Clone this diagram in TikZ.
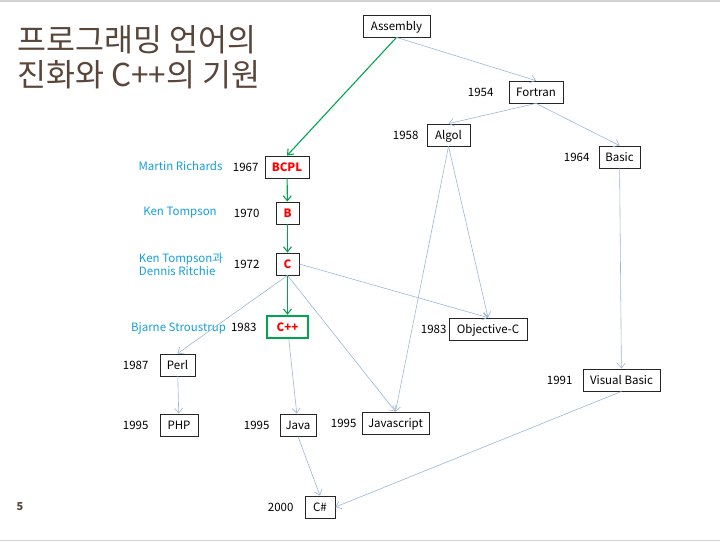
\documentclass[tikz,border=0pt]{standalone}
\usepackage{fontspec}
\setmainfont{Noto Sans CJK KR}
\usetikzlibrary{arrows.meta,positioning}
\definecolor{linkblue}{HTML}{9BB7D4}
\definecolor{pathgreen}{HTML}{00A550}
\definecolor{titlebrown}{HTML}{5A4539}
\definecolor{namecyan}{HTML}{14A0DC}
\definecolor{slidegray}{HTML}{D2D2D2}

\begin{document}
\begin{tikzpicture}[x=1pt,y=-1pt,
  >={Straight Barb[length=5pt,width=8pt]},
  lang/.style={draw=black!85,line width=0.8pt,minimum height=22pt,inner sep=2pt,
               text height=10pt,text depth=1.6pt,font=\fontsize{11.5}{13}\selectfont},
  key/.style={lang,text=red,font=\fontsize{11.5}{13}\selectfont\bfseries},
  year/.style={inner sep=0pt,font=\fontsize{11.5}{13}\selectfont},
  who/.style={inner sep=0pt,text=namecyan,align=left,font=\fontsize{11.5}{13}\selectfont},
  inherit/.style={->,linkblue,line width=0.6pt},
  lineage/.style={->,pathgreen,line width=1.1pt}
]
\useasboundingbox (0,0) rectangle (720,541);
\draw[slidegray,line width=1.5pt] (0,0.75) -- (720,0.75);
\draw[slidegray,line width=1.5pt] (0,540.25) -- (720,540.25);

% title and page number
\node[anchor=west,inner sep=0pt,text=titlebrown,align=left,
      font=\fontsize{31.5}{35}\selectfont] (title) at (17,57) {프로그래밍 언어의\\진화와 C++의 기원};
\node[inner sep=0pt,text=titlebrown,font=\fontsize{11}{12}\selectfont\bfseries] (page) at (20,507) {5};

% languages
\node[lang,minimum width=67pt] (asm) at (396.5,26) {Assembly};
\node[lang,minimum width=54pt] (fortran) at (536,92) {Fortran};
\node[lang,minimum width=43pt] (algol) at (448.5,135) {Algol};
\node[lang,minimum width=41pt] (basic) at (619.5,157) {Basic};
\node[key,minimum width=44pt] (bcpl) at (287,167) {BCPL};
\node[key,minimum width=23pt] (b) at (287.5,213) {B};
\node[key,minimum width=23pt] (c) at (287.5,264) {C};
\node[key,minimum width=41pt,draw=pathgreen,line width=2.4pt] (cpp) at (287.5,327) {C++};
\node[lang,minimum width=78pt] (objc) at (488,329) {Objective-C};
\node[lang,minimum width=35pt] (perl) at (177.5,365) {Perl};
\node[lang,minimum width=77pt] (vb) at (621.5,380) {Visual Basic};
\node[lang,minimum width=38pt] (php) at (179,425) {PHP};
\node[lang,minimum width=36pt] (java) at (298,425) {Java};
\node[lang,minimum width=67pt] (js) at (395.5,423) {Javascript};
\node[lang,minimum width=30pt] (csharp) at (320,507) {C\#};

% years
\node[year,left=15pt of fortran] (y1954) {1954};
\node[year,left=8pt of algol] (y1958) {1958};
\node[year,left=9pt of basic] (y1964) {1964};
\node[year,left=6pt of bcpl] (y1967) {1967};
\node[year,left=16pt of b] (y1970) {1970};
\node[year,left=16pt of c] (y1972) {1972};
\node[year,left=9pt of cpp] (y1983a) {1983};
\node[year,left=2pt of objc] (y1983b) {1983};
\node[year,left=11pt of perl] (y1987) {1987};
\node[year,left=10pt of vb] (y1991) {1991};
\node[year,left=11pt of php] (y1995a) {1995};
\node[year,left=10pt of java] (y1995b) {1995};
\node[year,left=5pt of js] (y1995c) {1995};
\node[year,left=11pt of csharp] (y2000) {2000};

% designers
\node[who] (richards) at (180.5,166) {Martin Richards};
\node[who] (thompson) at (180,213) {Ken Tompson};
\node[who] (ritchie) at (181,264.5) {Ken Tompson과\\Dennis Ritchie};
\node[who] (bjarne) at (178.5,328) {Bjarne Stroustrup};

% C lineage
\draw[lineage] (asm.south) -- (bcpl.north);
\draw[lineage] (bcpl) -- (b);
\draw[lineage] (b) -- (c);
\draw[lineage] (c) -- (cpp);

% other descent
\draw[inherit] (asm.south) -- (fortran.north);
\draw[inherit] (fortran.south) -- (algol.north);
\draw[inherit] (fortran.south) -- (basic.north);
\draw[inherit] (algol.south) -- (js.north);
\draw[inherit] (algol.south) -- (objc.north);
\draw[inherit] (basic) -- (vb);
\draw[inherit] (c.east) -- (objc.north);
\draw[inherit] (c.south) -- (perl.north);
\draw[inherit] (c.south) -- (js.north);
\draw[inherit] (perl) -- (php);
\draw[inherit] (cpp) -- (java);
\draw[inherit] (java.south) -- (csharp.north);
\draw[inherit] (vb.south) -- (csharp.east);
\end{tikzpicture}
\end{document}
